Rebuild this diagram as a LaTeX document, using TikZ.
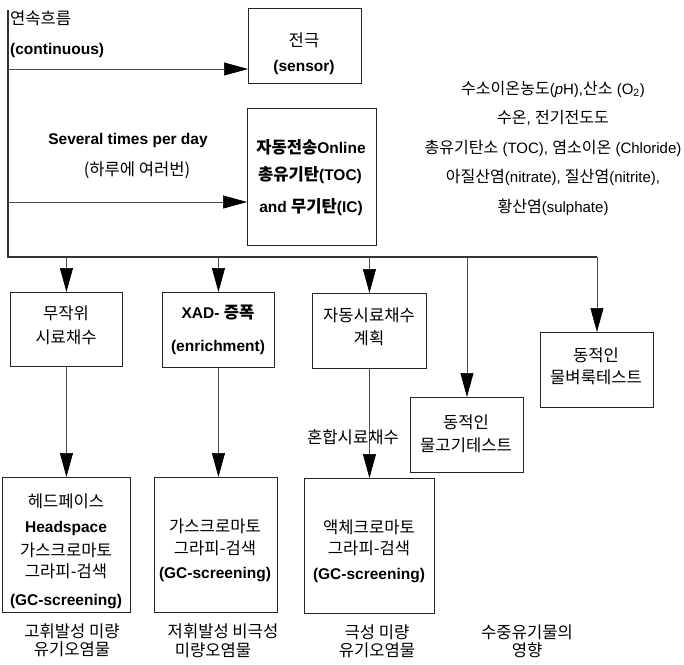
\documentclass[tikz,border=0pt]{standalone}
\usepackage{fontspec}
\setmainfont{Liberation Sans}
\newfontfamily\kr{Noto Sans CJK KR}[Scale=1.07]
\newcommand\K[1]{{\kr #1}}
\usetikzlibrary{arrows.meta}
\tikzset{
  every node/.style={font=\fontsize{15.5}{18}\selectfont},
  box/.style={draw=black!85, line width=0.9pt, anchor=north west, inner sep=0pt},
  lbl/.style={inner sep=0pt, align=center},
  arr/.style={-{Triangle[length=24pt,width=13pt,color=black]}, line width=0.7pt, draw=black!70},
  bus/.style={line width=2.2pt, draw=black!80},
}
\begin{document}
\begin{tikzpicture}[x=1pt,y=-1pt]
\useasboundingbox (0,0) rectangle (684,664);

% boxes
\node[box, minimum width=113pt, minimum height=75pt] (sensor) at (248,8) {};
\node[box, minimum width=129pt, minimum height=137pt] (online) at (247,108) {};
\node[box, minimum width=112pt, minimum height=74pt] (A) at (10,292) {};
\node[box, minimum width=112pt, minimum height=75pt] (B) at (162,292) {};
\node[box, minimum width=114pt, minimum height=75pt] (C) at (312,293) {};
\node[box, minimum width=113pt, minimum height=75pt] (D) at (410,397) {};
\node[box, minimum width=113pt, minimum height=75pt] (E) at (540,332) {};
\node[box, minimum width=128pt, minimum height=135pt] (A2) at (2,477) {};
\node[box, minimum width=123pt, minimum height=135pt] (B2) at (154,477) {};
\node[box, minimum width=130pt, minimum height=135pt] (C2) at (304,478) {};

% bus
\coordinate (top) at (8,10);
\coordinate (corner) at (8,257);
\coordinate (busend) at (597,257);
\coordinate (s1) at (8,69);
\coordinate (s2) at (8,202);
\draw[bus] (top) -- (corner) -- (busend);

% connectors
\draw[arr] (s1) -- (sensor.west |- s1);
\draw[arr] (s2) -- (online.west |- s2);
\draw[arr] (A.north |- corner) -- (A.north);
\draw[arr] (B.north |- corner) -- (B.north);
\draw[arr] (C.north |- corner) -- (C.north);
\draw[arr] (D.north |- corner) -- (D.north);
\draw[arr] (E.north |- corner) -- (E.north);
\draw[arr] (A.south) -- (A.south |- A2.north);
\draw[arr] (B.south) -- (B.south |- B2.north);
\draw[arr] (C.south) -- (C.south |- C2.north);

% top-left texts
\node[lbl, anchor=west] (cont1) at (10,18) {\K{연속흐름}};
\node[lbl, anchor=west] (cont2) at (10,50) {\bfseries (continuous)};
\node[lbl] (sev1) at (128,140) {\bfseries Several times per day};
\node[lbl] (sev2) at (137,170) {\K{(하루에 여러번)}};

% top boxes text
\node[lbl] (sensor1) at (304,40) {\K{전극}};
\node[lbl] (sensor2) at (304,67) {\bfseries (sensor)};
\node[lbl] (on1) at (311,147) {\bfseries\K{자동전송}Online};
\node[lbl] (on2) at (310,175) {\bfseries\K{총유기탄}(TOC)};
\node[lbl] (on3) at (311,207) {\bfseries and \K{무기탄}(IC)};

% parameters
\node[lbl, font=\fontsize{15}{29.5}\selectfont] (params) at (553,148)
 {\K{수소이온농도}(\textit{p}H),\K{산소} (O\textsubscript{2})\\
  \K{수온}, \K{전기전도도}\\
  \K{총유기탄소} (TOC), \K{염소이온} (Chloride)\\
  \K{아질산염}(nitrate), \K{질산염}(nitrite),\\
  \K{황산염}(sulphate)};

% middle boxes text
\node[lbl] (A1t) at (66,313) {\K{무작위}};
\node[lbl] (A2t) at (66,337) {\K{시료채수}};
\node[lbl] (B1t) at (218,313) {\bfseries XAD- \K{증폭}};
\node[lbl] (B2t) at (218,347) {\bfseries (enrichment)};
\node[lbl] (C1t) at (369,315) {\K{자동시료채수}};
\node[lbl] (C2t) at (369,338) {\K{계획}};
\node[lbl] (D1t) at (466,422) {\K{동적인}};
\node[lbl] (D2t) at (466,445) {\K{물고기테스트}};
\node[lbl] (E1t) at (596,355) {\K{동적인}};
\node[lbl] (E2t) at (596,377) {\K{물벼룩테스트}};
\node[lbl] (mix) at (353,437) {\K{혼합시료채수}};

% bottom boxes text
\node[lbl] (a21) at (66,501) {\K{헤드페이스}};
\node[lbl] (a22) at (66,528) {\bfseries Headspace};
\node[lbl] (a23) at (66,550) {\K{가스크로마토}};
\node[lbl] (a24) at (66,571) {\K{그라피-검색}};
\node[lbl] (a25) at (66,602) {\bfseries (GC-screening)};
\node[lbl] (b21) at (215,526) {\K{가스크로마토}};
\node[lbl] (b22) at (215,548) {\K{그라피-검색}};
\node[lbl] (b23) at (215,575) {\bfseries (GC-screening)};
\node[lbl] (c21) at (369,527) {\K{액체크로마토}};
\node[lbl] (c22) at (369,548) {\K{그라피-검색}};
\node[lbl] (c23) at (369,576) {\bfseries (GC-screening)};

% bottom captions
\node[lbl] (capa1) at (72,631) {\K{고휘발성 미량}};
\node[lbl] (capa2) at (72,649) {\K{유기오염물}};
\node[lbl] (capb1) at (223,631) {\K{저휘발성 비극성}};
\node[lbl] (capb2) at (213,650) {\K{미량오염물}};
\node[lbl] (capc1) at (377,632) {\K{극성 미량}};
\node[lbl] (capc2) at (377,650) {\K{유기오염물}};
\node[lbl] (capd1) at (527,632) {\K{수중유기물의}};
\node[lbl] (capd2) at (527,650) {\K{영향}};
\end{tikzpicture}
\end{document}
